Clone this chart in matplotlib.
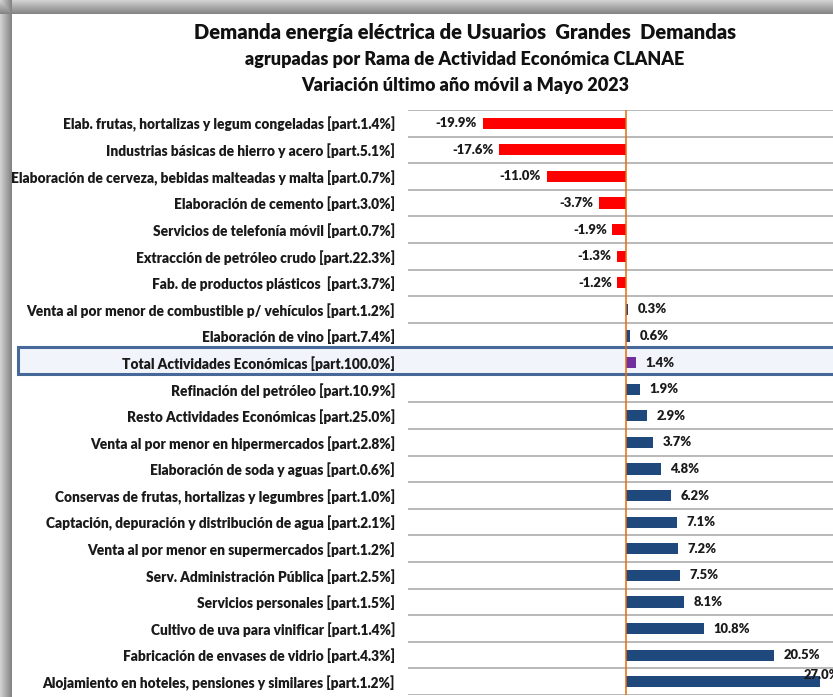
import numpy as np
import matplotlib
matplotlib.use("Agg")
import matplotlib.pyplot as plt
from matplotlib.patches import Rectangle

plt.rcParams['font.family'] = ['Lato', 'DejaVu Sans']

title_lines = ["Demanda energía eléctrica de Usuarios  Grandes  Demandas",
               "agrupadas por Rama de Actividad Económica CLANAE",
               "Variación último año móvil a Mayo 2023"]

categories = [
    "Elab. frutas, hortalizas y legum congeladas [part.1.4%]",
    "Industrias básicas de hierro y acero [part.5.1%]",
    "Elaboración de cerveza, bebidas malteadas y malta [part.0.7%]",
    "Elaboración de cemento [part.3.0%]",
    "Servicios de telefonía móvil [part.0.7%]",
    "Extracción de petróleo crudo [part.22.3%]",
    "Fab. de productos plásticos  [part.3.7%]",
    "Venta al por menor de combustible p/ vehículos [part.1.2%]",
    "Elaboración de vino [part.7.4%]",
    "Total Actividades Económicas [part.100.0%]",
    "Refinación del petróleo [part.10.9%]",
    "Resto Actividades Económicas [part.25.0%]",
    "Venta al por menor en hipermercados [part.2.8%]",
    "Elaboración de soda y aguas [part.0.6%]",
    "Conservas de frutas, hortalizas y legumbres [part.1.0%]",
    "Captación, depuración y distribución de agua [part.2.1%]",
    "Venta al por menor en supermercados [part.1.2%]",
    "Serv. Administración Pública [part.2.5%]",
    "Servicios personales [part.1.5%]",
    "Cultivo de uva para vinificar [part.1.4%]",
    "Fabricación de envases de vidrio [part.4.3%]",
    "Alojamiento en hoteles, pensiones y similares [part.1.2%]",
]
values = [-19.9, -17.6, -11.0, -3.7, -1.9, -1.3, -1.2, 0.3, 0.6, 1.4, 1.9, 2.9,
          3.7, 4.8, 6.2, 7.1, 7.2, 7.5, 8.1, 10.8, 20.5, 27.0]
total_label = "Total Actividades Económicas [part.100.0%]"

W, H = 833, 697
fig = plt.figure(figsize=(W / 100, H / 100), dpi=100)
fig.patch.set_facecolor('white')

# shadow frame (top and left)
bg = fig.add_axes([0, 0, 1, 1], zorder=-10)
yy, xx = np.mgrid[0:H, 0:W]
top = yy < 14
left = xx < 12
shade_top = 0.82 - 0.30 * (yy / 13.0)
shade_left = 0.82 - 0.30 * (xx / 11.0)
sh = np.ones((H, W))
sh = np.where(top, shade_top, sh)
sh = np.where(left & ~top, shade_left, sh)
sh = np.where(left & top, np.minimum(shade_top, shade_left), sh)
img = np.repeat(sh[:, :, None], 3, axis=2)
bg.imshow(img, aspect='auto', extent=[0, W, H, 0], interpolation='nearest')
bg.set_xlim(0, W)
bg.set_ylim(H, 0)
bg.axis('off')

# Highlight box for total row (drawn in background axes, behind main axes)
bg.add_patch(Rectangle((18, 347), W + 10 - 18, 27, facecolor='#F1F4FA',
                       edgecolor='#46699A', lw=2.2, zorder=5))

# main axes
ax_left, ax_right = 408, 833
ax_top, ax_bot = 110, 695
ax = fig.add_axes([ax_left / W, (H - ax_bot) / H, (ax_right - ax_left) / W, (ax_bot - ax_top) / H])
ax.set_facecolor('none')
px_per_unit = 7.2
zero_px = 626
ax.set_xlim((ax_left - zero_px) / px_per_unit, (ax_right - zero_px) / px_per_unit)
n = len(categories)
ax.set_ylim(n - 0.5, -0.5)
ti = categories.index(total_label)

# grid lines between rows
for b in np.arange(-0.5, n, 1.0):
    if b in (ti - 0.5, ti + 0.5):
        continue
    ax.axhline(b, color='#A6A6A6', lw=1.1, zorder=1)

colors = []
for c, v in zip(categories, values):
    if c == total_label:
        colors.append('#7030A0')
    elif v < 0:
        colors.append('#FF0000')
    else:
        colors.append('#1F497D')

ypos = np.arange(n)
ax.barh(ypos, values, height=0.42, color=colors, edgecolor='none', zorder=3)
ax.axvline(0, color='#E46C0A', lw=1.1, zorder=4)

lab_kw = dict(fontsize=9.4, fontweight='heavy', color='#1a1a1a', zorder=5)
for y, v in zip(ypos, values):
    lbl = f"{v:.1f}%"
    if v < 0:
        ax.annotate(lbl, (v, y), xytext=(-4, 0), textcoords='offset points',
                    ha='right', va='center',
                    bbox=dict(boxstyle='square,pad=0.15', fc='white', ec='none'), **lab_kw)
    elif v > 25:
        ax.annotate(lbl, (v, y), xytext=(-12, 4.5), textcoords='offset points',
                    ha='left', va='center', annotation_clip=False, **lab_kw)
    else:
        ax.annotate(lbl, (v, y), xytext=(7, 0), textcoords='offset points',
                    ha='left', va='center', **lab_kw)

ax.set_yticks(ypos)
ax.set_yticklabels(categories, fontsize=9.9, fontweight='heavy', color='#1a1a1a')
ax.tick_params(axis='y', length=0, pad=9.4)
ax.set_xticks([])
for s in ax.spines.values():
    s.set_visible(False)

# Titles
tx = 465 / W
fig.text(tx, 1 - 33 / H, title_lines[0], ha='center', va='center', fontsize=14.5, fontweight='heavy', color='#111111')
fig.text(tx, 1 - 59 / H, title_lines[1], ha='center', va='center', fontsize=13, fontweight='heavy', color='#111111')
fig.text(tx, 1 - 85 / H, title_lines[2], ha='center', va='center', fontsize=13, fontweight='heavy', color='#111111')

fig.savefig('out.png', dpi=100)
